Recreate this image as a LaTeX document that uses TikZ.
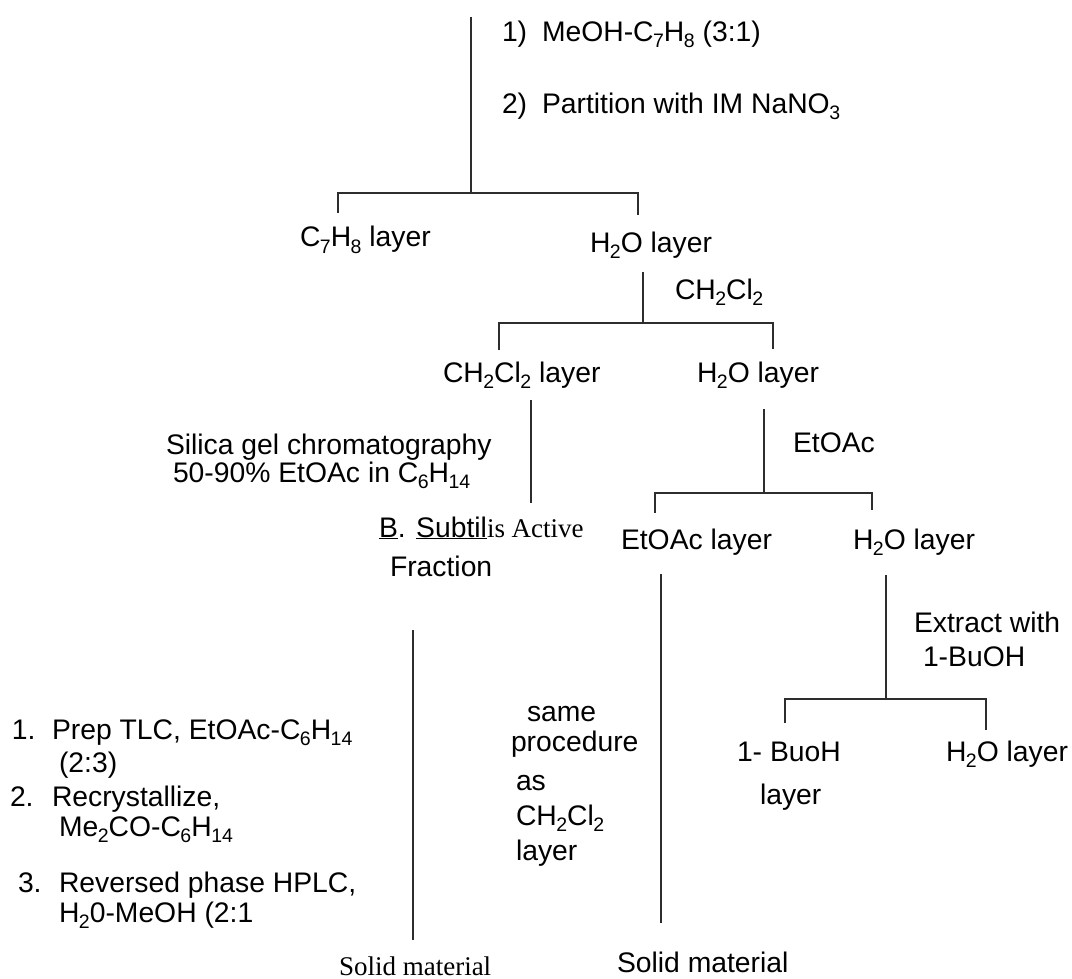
\documentclass[tikz,border=0pt]{standalone}
\usepackage{fontspec}
\setmainfont{Liberation Sans}
\newfontfamily\serifface{Liberation Serif}
\definecolor{linegray}{RGB}{45,45,45}
\newcommand\sbs[1]{\kern-0.5pt\raisebox{-6pt}{\fontsize{19.5}{19.5}\selectfont #1}}
\begin{document}
\begin{tikzpicture}[x=1pt,y=-1pt,
  lbl/.style={inner sep=0pt, outer sep=0pt, anchor=base west, text=black,
    font=\fontsize{28.3}{34}\selectfont},
  serlbl/.style={lbl, font=\serifface\fontsize{27}{31}\selectfont},
  conn/.style={line width=1.8pt, draw=linegray}]
\useasboundingbox (0,0) rectangle (1072,979);
\fill[white] (0,0) rectangle (1072,979);

% ---------- text nodes ----------
\node[lbl] (s1n) at (502,42) {1)};
\node[lbl] (s1)  at (542,42) {MeOH-C\sbs{7}H\sbs{8} (3:1)};
\node[lbl] (s2n) at (502,114) {2)};
\node[lbl] (s2)  at (542,114) {Partition with IM NaNO\sbs{3}};
\node[lbl] (c7h8) at (300,247) {C\sbs{7}H\sbs{8} layer};
\node[lbl] (h2oa) at (590,252) {H\sbs{2}O layer};
\node[lbl] (ch2cl2a) at (675,299) {CH\sbs{2}Cl\sbs{2}};
\node[lbl] (dcm) at (443,382) {CH\sbs{2}Cl\sbs{2} layer};
\node[lbl] (h2ob) at (697,382) {H\sbs{2}O layer};
\node[lbl] (sil1) at (166,454) {Silica gel chromatography};
\node[lbl] (sil2) at (173,482) {50-90\% EtOAc in C\sbs{6}H\sbs{14}};
\node[lbl] (etoac) at (793,452) {EtOAc};
\node[lbl] (bsub) at (379,537) {\underline{B}. \underline{Subtil}{\serifface\fontsize{27}{31}\selectfont is Active}};
\node[lbl] (frac) at (390,576) {Fraction};
\node[lbl] (etl) at (621,549) {EtOAc layer};
\node[lbl] (h2oc) at (853,549) {H\sbs{2}O layer};
\node[lbl] (ext1) at (914,632) {Extract with};
\node[lbl] (ext2) at (923,666) {1-BuOH};
\node[lbl] (same) at (527,721) {same};
\node[lbl] (proc) at (511,751) {procedure};
\node[lbl] (as)   at (516,790) {as};
\node[lbl] (dcm2) at (516,825) {CH\sbs{2}Cl\sbs{2}};
\node[lbl] (lay2) at (516,860) {layer};
\node[lbl] (buoh) at (737,761) {1- BuoH};
\node[lbl] (buohl) at (760,804) {layer};
\node[lbl] (h2od) at (946,761) {H\sbs{2}O layer};
\node[lbl] (l1n) at (12,739) {1.};
\node[lbl] (l1)  at (52,739) {Prep TLC, EtOAc-C\sbs{6}H\sbs{14}};
\node[lbl] (l1b) at (59,772) {(2:3)};
\node[lbl] (l2n) at (10,806) {2.};
\node[lbl] (l2)  at (52,806) {Recrystallize,};
\node[lbl] (l2b) at (59,836) {Me\sbs{2}CO-C\sbs{6}H\sbs{14}};
\node[lbl] (l3n) at (18,892) {3.};
\node[lbl] (l3)  at (59,892) {Reversed phase HPLC,};
\node[lbl] (l3b) at (59,922) {H\sbs{2}0-MeOH (2:1};
\node[serlbl] (solid1) at (339,975) {Solid material};
\node[lbl] (solid2) at (617,972) {Solid material};

% ---------- connector points ----------
\coordinate (a0) at (471,17);   \coordinate (a1) at (471,193);
\coordinate (a1l) at (338,193); \coordinate (a1ll) at (338,213);
\coordinate (a1r) at (638,193); \coordinate (a1rr) at (638,215);

\coordinate (b0) at (643,272);  \coordinate (b1) at (643,323);
\coordinate (b1l) at (499,323); \coordinate (b1ll) at (499,350);
\coordinate (b1r) at (773,323); \coordinate (b1rr) at (773,349);

\coordinate (c0) at (531,400);  \coordinate (c1) at (531,503);

\coordinate (d0) at (764,409);  \coordinate (d1) at (764,493);
\coordinate (d1l) at (655,493); \coordinate (d1ll) at (655,513);
\coordinate (d1r) at (872,493); \coordinate (d1rr) at (872,510);

\coordinate (e0) at (661,574);  \coordinate (e1) at (661,923);

\coordinate (f0) at (886,575);  \coordinate (f1) at (886,699);
\coordinate (f1l) at (785,699); \coordinate (f1ll) at (785,723);
\coordinate (f1r) at (986,699); \coordinate (f1rr) at (986,730);

\coordinate (g0) at (413,630);  \coordinate (g1) at (413,940);

% ---------- connectors ----------
\draw[conn] (a0) -- (a1);
\draw[conn] (a1ll) -- (a1l) -- (a1r) -- (a1rr);
\draw[conn] (b0) -- (b1);
\draw[conn] (b1ll) -- (b1l) -- (b1r) -- (b1rr);
\draw[conn] (c0) -- (c1);
\draw[conn] (d0) -- (d1);
\draw[conn] (d1ll) -- (d1l) -- (d1r) -- (d1rr);
\draw[conn] (e0) -- (e1);
\draw[conn] (f0) -- (f1);
\draw[conn] (f1ll) -- (f1l) -- (f1r) -- (f1rr);
\draw[conn] (g0) -- (g1);
\end{tikzpicture}
\end{document}
